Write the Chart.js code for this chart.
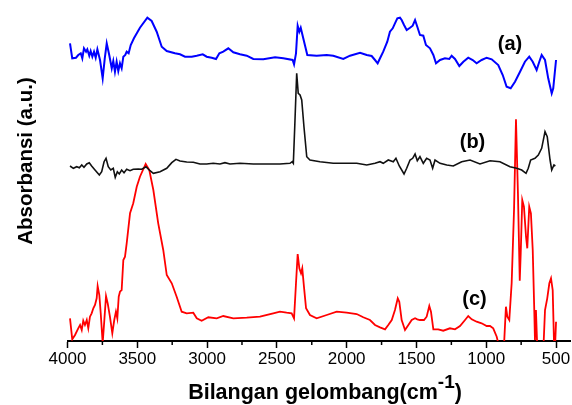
<!DOCTYPE html>
<html>
<head>
<meta charset="utf-8">
<script src="https://cdn.jsdelivr.net/npm/chart.js@4.4.1/dist/chart.umd.min.js"></script>
<style>
html,body{margin:0;padding:0;background:#fff;}
#wrap{width:572px;height:405px;position:relative;}
</style>
</head>
<body>
<div id="wrap"><canvas id="c" width="572" height="405"></canvas></div>
<script>
// Wavenumbers (cm-1) and absorbance (arbitrary units, stacked offsets)
const blueWave = [3982,3966,3939,3923,3905,3894,3882,3867,3858,3844,3834,3822,3810,3798,3786,3767,3748,3733,3719,3701,3683,3672,3660,3648,3636,3624,3612,3600,3586,3576,3562,3547,3524,3481,3428,3397,3361,3325,3289,3230,3194,3158,3110,3074,3031,3003,2967,2936,2912,2884,2848,2812,2764,2716,2669,2597,2513,2454,2387,2377,2363,2351,2339,2329,2311,2282,2215,2143,2096,2024,1976,1904,1856,1821,1797,1778,1761,1738,1709,1690,1670,1654,1637,1618,1606,1589,1570,1546,1527,1510,1494,1475,1451,1432,1403,1379,1360,1331,1296,1265,1248,1224,1193,1164,1129,1097,1069,1033,997,961,914,882,854,825,794,758,723,692,667,639,620,603,579,556,531,520,500];
const blueAbs = [297.7,282.7,283.3,286,287.7,282.7,292.7,289.3,291.7,285.3,290,284.3,289.3,283.3,291.7,281,262.7,282.7,297.7,286,272.7,280,269.3,279.3,270,277.7,272.7,284.3,286,289.3,287.7,296,302.7,313.3,323.3,320,309.3,294.3,290,287.7,286.7,284.3,284.3,285.3,286.7,284.3,283.3,282,287.7,289.3,292.7,288.7,286.7,285.3,282,281.7,283.7,282.7,281,276.7,287.7,315.3,309.3,313.3,302.7,286,285.3,286,285.3,282,285.3,288.3,286,285,281,277.7,282.7,289.3,299.3,309.3,312.7,317.7,322.7,323.3,321,316,311,313.3,315.3,321,314.3,306,305.3,296,292.7,286,277.7,281,282.7,282,285.3,282,275,279.3,283.3,281,277.7,281,283.3,281.7,276,266,254.3,252.7,259.3,269.3,279.3,284.3,279.3,271,279.3,286,281,262.7,247.7,252.7,281];

const blackWave = [3982,3958,3934,3915,3898,3882,3862,3844,3827,3803,3772,3755,3738,3724,3708,3690,3672,3658,3643,3629,3612,3595,3576,3552,3529,3493,3468,3438,3409,3385,3337,3289,3253,3223,3194,3146,3099,3051,3003,2956,2908,2872,2836,2764,2669,2573,2478,2406,2390,2382,2372,2358,2347,2334,2322,2306,2286,2263,2191,2096,2000,1928,1856,1797,1761,1738,1702,1666,1647,1623,1589,1570,1546,1527,1510,1494,1475,1451,1427,1403,1384,1367,1331,1283,1236,1176,1116,1045,973,902,830,782,746,715,699,682,651,627,603,579,563,543,531,515,505];
const blackAbs = [175,172.7,174.3,173.3,176,173.7,177,178.3,175,171,166,169.3,179.3,182.7,174.3,171,172.7,163.7,169.3,167,171,168.3,171.7,170.3,171.7,172,171.7,174.3,170.3,167.7,169.3,172.7,178.3,181.7,180,179,178.7,177,177,177.7,177,178.3,177,177.7,177,177,177,177.7,179.3,177.7,214.3,267.7,247.7,246,241,214.3,184.3,181,179.3,177.7,177.7,177.7,176,177.7,179.3,177.7,181,179.3,182.7,175,167,172.7,181,182.7,187,180.3,184.3,177.7,182.7,181,172.7,181,177.7,176,175,179.3,181,177,180.3,179.3,174.3,172.7,171,167.7,172.7,181,182.7,186,192.7,209.3,204.3,181,171,176,175];

const redWave = [3982,3966,3946,3923,3910,3898,3887,3875,3862,3851,3839,3827,3815,3803,3791,3784,3772,3762,3748,3736,3724,3712,3696,3679,3665,3653,3643,3633,3624,3612,3600,3588,3576,3552,3529,3504,3481,3440,3414,3385,3350,3314,3289,3253,3218,3182,3146,3099,3074,3039,2991,2931,2884,2812,2716,2621,2526,2478,2430,2394,2377,2363,2351,2339,2327,2318,2306,2291,2263,2215,2143,2071,2000,1928,1881,1833,1797,1761,1725,1702,1677,1654,1634,1623,1606,1582,1558,1534,1510,1494,1475,1446,1427,1408,1396,1379,1344,1308,1260,1224,1188,1152,1129,1104,1069,1033,997,973,950,925,914,890,873,859,849,835,818,801,787,773,760,753,742,730,715,706,692,680,667,656,651,644,634,591,579,563,548,536,524,515,508,500];
const redAbs = [22.7,1.7,6,12.7,16,11,20.3,16,21,12.7,24.3,27.7,32.7,36,42.7,55,46,27.7,-2,21,45,37.7,24.3,7.7,21,29.3,22.7,44.3,49.3,51,81,84.3,97.7,127.7,137.7,154.3,164.3,177,171,151,117.7,91,66,57.7,44.3,29.3,27.7,28.3,22.7,20.3,23.7,22.7,25,22.7,23.3,24.3,27.7,29.3,28.3,27.7,22.7,57.7,87,72.7,67.7,72.7,54.3,32.7,26,22.7,26,29.3,28.3,27,23.7,21,16,13.7,11.7,16,21,31,42.7,39.3,21,11,16,21,22.7,21.7,21,21,24.3,35,29.3,11.7,11.7,10.3,12.7,11.7,15,21,25,21.7,19.3,17.7,15,15,12.7,4.3,-2.3,-8,-5,34.3,24.3,21,57.7,131,221.7,147.7,60.3,87.7,141,134.3,104.3,92.7,134.3,127.7,91,31,1,31,-9,-9,31,42.7,57.7,62.7,51,1,-9,19.3];

const xTickValues = [4000,3500,3000,2500,2000,1500,1000,500];
const xTickLabels = ['4000','3500','3000','2500','2000','1500','1000','500'];
const xMinorTicks = [3750,3250,2750,2250,1750,1250,750];
const seriesLabels = ['(a)','(b)','(c)'];
const xTitleMain = 'Bilangan gelombang(cm';
const xTitleSup = '-1';
const xTitleEnd = ')';
const yTitle = 'Absorbansi (a.u.)';

function pts(w, a){ return w.map((x,i)=>({x:x, y:a[i]})); }

const FONT = "'Liberation Sans', Arial, sans-serif";

const decor = {
  id:'decor',
  afterDraw(chart){
    const ctx = chart.ctx;
    const xs = chart.scales.x;
    const ca = chart.chartArea;
    ctx.save();
    // minor ticks
    ctx.strokeStyle = '#000';
    ctx.lineWidth = 1.5;
    xMinorTicks.forEach(v=>{
      const px = xs.getPixelForValue(v);
      ctx.beginPath();
      ctx.moveTo(px, ca.bottom);
      ctx.lineTo(px, ca.bottom + 4);
      ctx.stroke();
    });
    ctx.fillStyle = '#000';
    // series labels
    ctx.font = 'bold 20px ' + FONT;
    ctx.textAlign = 'center';
    ctx.textBaseline = 'alphabetic';
    ctx.fillText(seriesLabels[0], 510, 49.5);
    ctx.fillText(seriesLabels[1], 472.5, 148);
    ctx.fillText(seriesLabels[2], 474.5, 305);
    // x title
    ctx.textAlign = 'left';
    ctx.font = 'bold 21.5px ' + FONT;
    const w1 = ctx.measureText(xTitleMain).width;
    ctx.font = 'bold 19px ' + FONT;
    const w2 = ctx.measureText(xTitleSup).width;
    ctx.font = 'bold 21.5px ' + FONT;
    const w3 = ctx.measureText(xTitleEnd).width;
    let x0 = 325 - (w1 + w2 + w3)/2;
    ctx.fillText(xTitleMain, x0, 399);
    ctx.font = 'bold 19px ' + FONT;
    ctx.fillText(xTitleSup, x0 + w1, 388);
    ctx.font = 'bold 21.5px ' + FONT;
    ctx.fillText(xTitleEnd, x0 + w1 + w2, 399);
    // y title
    ctx.translate(31.5, 161);
    ctx.rotate(-Math.PI/2);
    ctx.font = 'bold 20.5px ' + FONT;
    ctx.textAlign = 'center';
    ctx.fillText(yTitle, 0, 0);
    ctx.restore();
  }
};

new Chart(document.getElementById('c'), {
  type:'line',
  data:{
    datasets:[
      {label:'a', data:pts(blueWave, blueAbs), borderColor:'#0000ff', borderWidth:2, pointRadius:0, tension:0, fill:false},
      {label:'b', data:pts(blackWave, blackAbs), borderColor:'#111111', borderWidth:1.6, pointRadius:0, tension:0, fill:false},
      {label:'c', data:pts(redWave, redAbs), borderColor:'#ff0000', borderWidth:1.8, pointRadius:0, tension:0, fill:false, clip:0}
    ]
  },
  plugins:[decor],
  options:{
    responsive:false,
    animation:false,
    devicePixelRatio:1,
    layout:{padding:{top:5, left:67.5, right:2, bottom:0}},
    plugins:{legend:{display:false}, tooltip:{enabled:false}, title:{display:false}},
    scales:{
      x:{
        type:'linear', min:400, max:4000, reverse:true,
        afterBuildTicks(s){ s.ticks = xTickValues.map(v=>({value:v})); },
        afterFit(s){ s.height = 64; },
        ticks:{autoSkip:false, maxRotation:0, padding:1.5, color:'#000',
          font:{family:FONT, size:17},
          callback:(v)=>{ const i = xTickValues.indexOf(v); return i>=0 ? xTickLabels[i] : ''; }},
        grid:{display:true, drawOnChartArea:false, drawTicks:true, tickLength:7, tickWidth:1.5, tickColor:'#000'},
        border:{display:true, color:'#000', width:2}
      },
      y:{display:false, min:0, max:336}
    }
  }
});
</script>
</body>
</html>
